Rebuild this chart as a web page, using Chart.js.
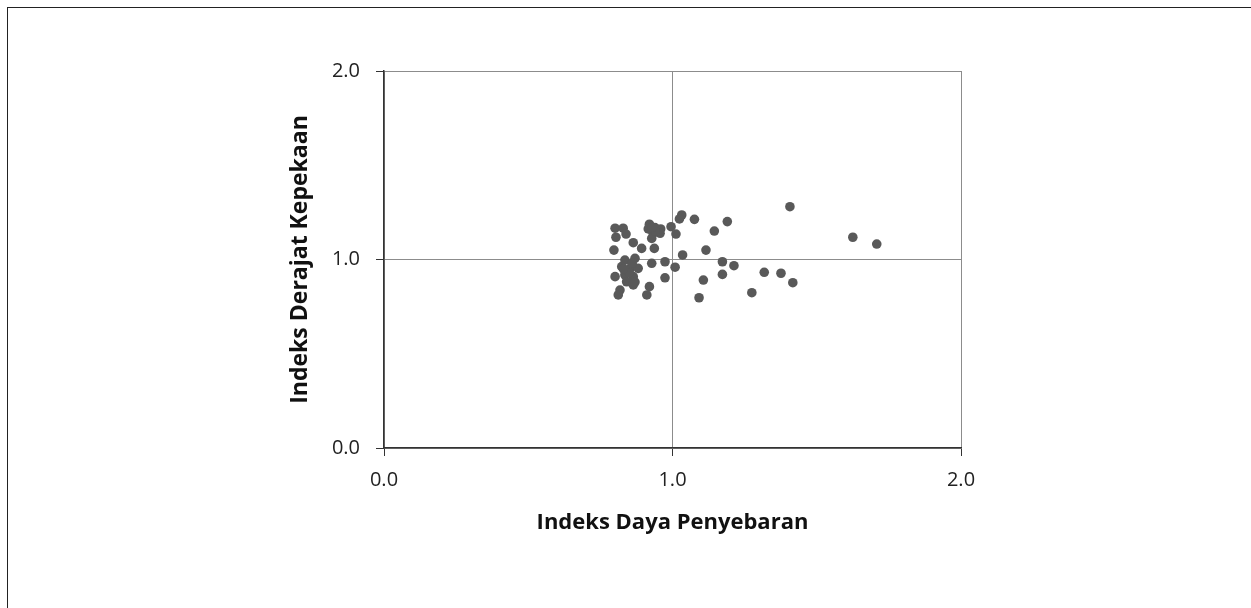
<!DOCTYPE html>
<html>
<head>
<meta charset="utf-8">
<script src="https://cdn.jsdelivr.net/npm/chart.js@4/dist/chart.umd.min.js"></script>
<style>
  html, body { margin: 0; padding: 0; background: #fff; }
  #frame {
    position: absolute; left: 7px; top: 7px; width: 1260px; height: 620px;
    border-left: 1.5px solid #222; border-top: 1.5px solid #222;
  }
  #myChart { position: absolute; left: 0; top: 0; }
</style>
</head>
<body>
<div id="frame"></div>
<canvas id="myChart" width="1251" height="608"></canvas>
<script>
// Indeks Daya Penyebaran (x) vs Indeks Derajat Kepekaan (y)
var dayaPenyebaran = [
    1.032, 1.024, 1.076, 1.190, 1.145, 0.801, 0.829, 0.839, 0.804, 0.920,
    0.916, 0.939, 0.959, 0.933, 0.957, 0.928, 0.995, 1.012, 0.864, 0.893,
    0.937, 0.797, 1.116, 1.035, 0.835, 0.870, 0.824, 0.853, 0.881, 0.801,
    0.835, 0.864, 0.841, 0.864, 0.818, 0.812, 0.928, 0.974, 1.009, 0.974,
    0.920, 0.911, 1.107, 1.092, 1.173, 1.213, 1.173, 1.407, 1.625, 1.708,
    1.318, 1.376, 1.417, 1.275, 0.850, 0.870, 0.830, 0.860, 0.940, 0.930
];
var derajatKepekaan = [
    1.236, 1.215, 1.213, 1.201, 1.151, 1.166, 1.166, 1.135, 1.118, 1.187,
    1.162, 1.169, 1.162, 1.139, 1.139, 1.112, 1.174, 1.135, 1.089, 1.059,
    1.059, 1.050, 1.050, 1.024, 0.997, 1.006, 0.962, 0.953, 0.953, 0.909,
    0.918, 0.909, 0.882, 0.865, 0.838, 0.812, 0.980, 0.988, 0.959, 0.903,
    0.856, 0.812, 0.891, 0.797, 0.988, 0.967, 0.921, 1.280, 1.118, 1.082,
    0.932, 0.927, 0.877, 0.824, 0.930, 0.880, 0.950, 0.980, 1.150, 1.170
];
var tickValues = [0, 1, 2];

var points = [];
for (var i = 0; i < dayaPenyebaran.length; i++) {
    points.push({x: dayaPenyebaran[i], y: derajatKepekaan[i]});
}

var fontFam = "'Open Sans', sans-serif";

function axisOpts(title, isX) {
    return {
        type: 'linear',
        min: 0,
        max: 2,
        afterBuildTicks: function (s) {
            s.ticks = tickValues.map(function (v) { return {value: v}; });
        },
        afterFit: function (s) {
            if (isX) { s.height = 100; } else { s.width = 104; }
        },
        ticks: {
            color: '#222',
            padding: isX ? 12 : 16,
            font: {family: fontFam, size: 20},
            callback: function (v) { return v.toFixed(1); }
        },
        grid: {
            color: '#8c8c8c',
            tickColor: '#333',
            tickLength: 8,
            lineWidth: 1
        },
        border: {color: '#333', width: 1.5},
        title: {
            display: true,
            text: title,
            color: '#111',
            font: {family: fontFam, size: isX ? 22 : 23, weight: 'bold'},
            padding: isX ? {top: 0, bottom: 12} : {top: 7, bottom: 0}
        }
    };
}

var ctx = document.getElementById("myChart").getContext('2d');
var myChart = new Chart(ctx, {
    type: 'scatter',
    data: {
        datasets: [{
            label: 'Sektor',
            data: points,
            backgroundColor: '#595959',
            borderColor: '#595959',
            pointRadius: 4.8,
            pointBorderWidth: 0
        }]
    },
    options: {
        responsive: false,
        animation: false,
        layout: {padding: {left: 280, right: 290, top: 71, bottom: 60}},
        plugins: {
            legend: {display: false},
            tooltip: {enabled: false}
        },
        scales: {
            x: axisOpts('Indeks Daya Penyebaran', true),
            y: axisOpts('Indeks Derajat Kepekaan', false)
        }
    }
});
</script>
</body>
</html>
